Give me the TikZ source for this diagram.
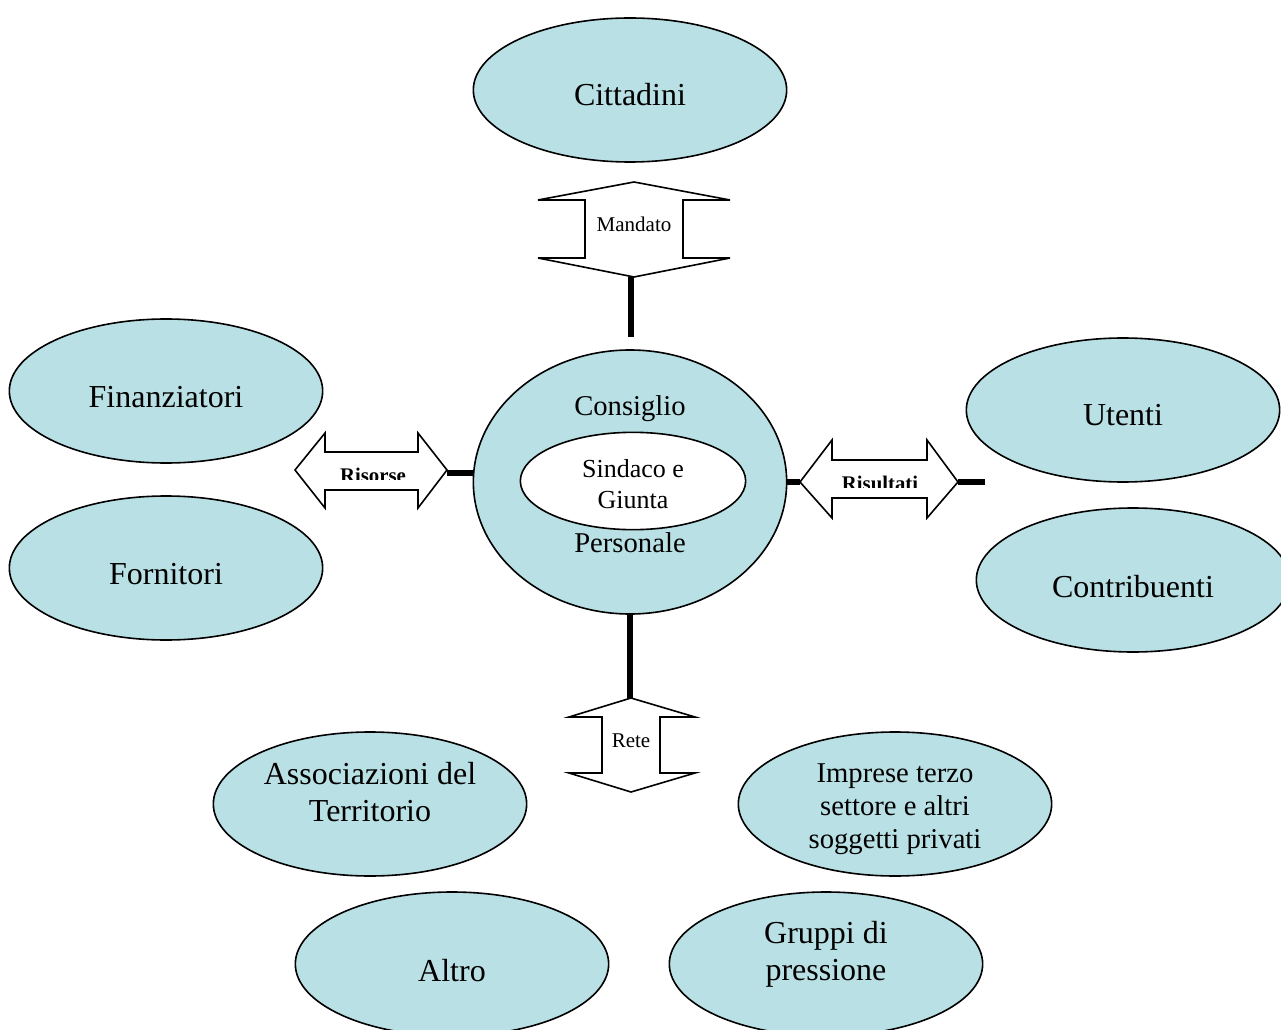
\documentclass[tikz,border=0pt]{standalone}
\usepackage{fontspec}
\setmainfont{Liberation Serif}
\usetikzlibrary{shapes.geometric}
\definecolor{teal1}{RGB}{185,224,228}
\tikzset{
  bubble/.style={ellipse, draw=black, line width=1.2pt, fill=teal1, minimum width=235pt, minimum height=108pt, inner sep=0pt},
  inner/.style={ellipse, draw=black, line width=1.2pt, fill=white, minimum width=169pt, minimum height=73pt, inner sep=0pt},
  bigtxt/.style={anchor=base, align=center, inner sep=0pt, font=\fontsize{24}{27.75}\selectfont},
  midtxt/.style={anchor=base, align=center, inner sep=0pt, font=\fontsize{21.5}{24.75}\selectfont},
  smalltxt/.style={anchor=base, align=center, inner sep=0pt, font=\fontsize{19.5}{23.2}\selectfont},
  arrtxt/.style={anchor=base, inner sep=0pt, font=\fontsize{15.75}{18}\selectfont},
  arrbold/.style={anchor=base, inner sep=0pt, font=\bfseries\fontsize{15.6}{18}\selectfont},
  arrshape/.style={draw=black, line width=1.2pt, fill=white, line join=miter},
  link/.style={line width=3.8pt}
}
\begin{document}
\begin{tikzpicture}[x=0.75pt, y=-0.75pt]
\useasboundingbox (0,0) rectangle (1281,1030);
\fill[white] (0,0) rectangle (1281,1030);
% outer ellipses
\node[bubble] (citt) at (630,90) {};
\node[bubble] (fin) at (166,391) {};
\node[bubble] (forn) at (166,568) {};
\node[bubble] (ute) at (1123,410) {};
\node[bubble] (contr) at (1133,580) {};
\node[bubble] (assoc) at (370,804) {};
\node[bubble] (impr) at (895,804) {};
\node[bubble] (altro) at (452,964) {};
\node[bubble] (grup) at (826,964) {};
% central
\node[bubble, minimum height=198pt] (cons) at (630,482) {};
\node[inner] (sind) at (633,481) {};
% texts (base = baseline of last line)
\node[bigtxt] (t-citt) at (630,106) {Cittadini};
\node[bigtxt] (t-fin) at (166,407) {Finanziatori};
\node[bigtxt] (t-forn) at (166,584) {Fornitori};
\node[bigtxt] (t-ute) at (1123,426) {Utenti};
\node[bigtxt] (t-contr) at (1133,597) {Contribuenti};
\node[bigtxt] (t-assoc) at (370,821) {Associazioni del\\Territorio};
\node[midtxt] (t-impr) at (895,848) {Imprese terzo\\settore e altri\\soggetti privati};
\node[bigtxt] (t-altro) at (452,981) {Altro};
\node[bigtxt] (t-grup) at (826,980) {Gruppi di\\pressione};
\node[midtxt] (t-cons) at (630,415) {Consiglio};
\node[midtxt] (t-pers) at (630,552) {Personale};
\node[smalltxt] (t-sind) at (633,508) {Sindaco e\\Giunta};
% Mandato arrow
\draw[arrshape] (634,182) -- (730,200) -- (683,200) -- (683,258) -- (730,258) -- (634,277) -- (538,258) -- (585,258) -- (585,200) -- (538,200) -- cycle;
\coordinate (mandB) at (631,277);
\coordinate (mandEnd) at (631,337);
\node[arrtxt] (t-mand) at (634,232) {Mandato};
% Rete arrow
\draw[arrshape] (631,698) -- (695,717) -- (660,717) -- (660,773) -- (695,773) -- (631,792) -- (569,773) -- (602,773) -- (602,717) -- (569,717) -- cycle;
\coordinate (reteT) at (630,698);
\node[arrtxt] (t-rete) at (631,747) {Rete};
% Risorse arrow
\draw[arrshape] (295,470) -- (325,433) -- (325,452) -- (418,452) -- (418,433) -- (447,470) -- (418,508) -- (418,490) -- (325,490) -- (325,508) -- cycle;
\coordinate (risR) at (447,473);
\begin{scope}
\clip (330,455) rectangle (415,479);
\node[arrbold] (t-ris) at (373,482) {Risorse};
\end{scope}
% Risultati arrow
\draw[arrshape] (800,482) -- (832,440) -- (832,460) -- (927,460) -- (927,440) -- (958,482) -- (927,518) -- (927,498) -- (832,498) -- (832,518) -- cycle;
\coordinate (risuL) at (800,482);
\coordinate (risuR) at (958,482);
\coordinate (risuEnd) at (985,482);
\begin{scope}
\clip (835,463) rectangle (925,487);
\node[arrbold] (t-risu) at (880,490) {Risultati};
\end{scope}
% connectors
\draw[link] (mandB) -- (mandEnd);
\draw[link] (cons.south) -- (cons.south |- reteT);
\draw[link] (risR) -- (cons.west |- risR);
\draw[link] (cons.east) -- (risuL);
\draw[link] (risuR) -- (risuEnd);
\end{tikzpicture}
\end{document}
